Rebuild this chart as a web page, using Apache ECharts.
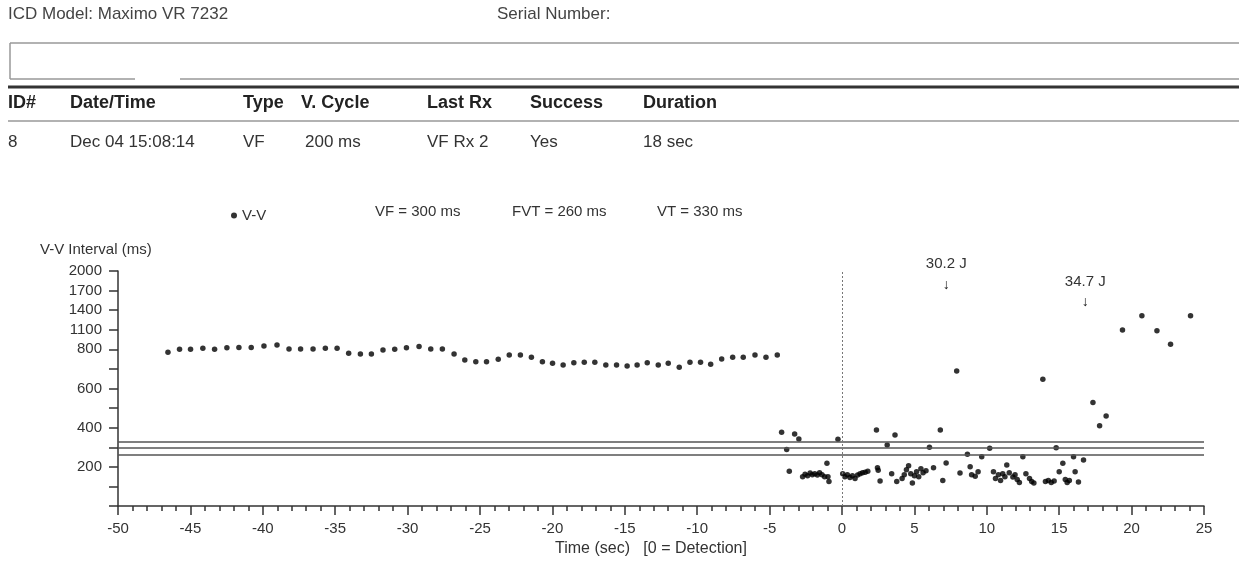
<!DOCTYPE html>
<html>
<head>
<meta charset="utf-8">
<title>ICD Episode - V-V Interval</title>
<script src="https://cdn.jsdelivr.net/npm/echarts@6/dist/echarts.min.js"></script>
<style>
    html, body { margin: 0; padding: 0; background: #fff; }
    #main { width: 1239px; height: 570px; }
</style>
</head>
<body>
<div id="main"></div>
<script>
    // episode table
    var headerCols = ['ID#', 'Date/Time', 'Type', 'V. Cycle', 'Last Rx', 'Success', 'Duration'];
    var headerVals = ['8', 'Dec 04 15:08:14', 'VF', '200 ms', 'VF Rx 2', 'Yes', '18 sec'];

    // detection zones (ms)
    var zoneNames = ['VF', 'FVT', 'VT'];
    var zoneValues = [300, 260, 330];

    // y tick labels (ms), scale is compressed above 800
    var yTickLabels = [200, 400, 600, 800, 1100, 1400, 1700, 2000];

    // V-V intervals: [time (sec), interval (ms)]
    var sinusPoints = [
        [-46.55, 785], [-45.75, 802], [-44.99, 802], [-44.14, 815], [-43.33, 802], [-42.48, 825],
        [-41.65, 830], [-40.80, 830], [-39.92, 851], [-39.02, 866], [-38.19, 806], [-37.39, 806],
        [-36.53, 806], [-35.68, 815], [-34.87, 815], [-34.07, 780], [-33.26, 776], [-32.50, 776],
        [-31.70, 797], [-30.89, 800], [-30.08, 825], [-29.21, 845], [-28.40, 806], [-27.60, 806],
        [-26.79, 776], [-26.05, 746], [-25.29, 737], [-24.55, 737], [-23.74, 749], [-22.98, 771],
        [-22.21, 771], [-21.45, 759], [-20.69, 737], [-19.99, 729], [-19.26, 720], [-18.52, 732],
        [-17.80, 734], [-17.07, 734], [-16.31, 720], [-15.57, 720], [-14.84, 715], [-14.15, 720],
        [-13.45, 732], [-12.69, 720], [-12.00, 729], [-11.24, 708], [-10.50, 734], [-9.77, 734],
        [-9.07, 724], [-8.31, 751], [-7.55, 759], [-6.82, 759], [-6.01, 771], [-5.25, 759], [-4.47, 771]
    ];
    var tachyPoints = [
        [-4.17, 376], [-3.82, 288], [-3.64, 178], [-3.27, 368], [-2.98, 342],
        [-2.72, 150], [-2.55, 162], [-2.38, 155], [-2.20, 168], [-2.05, 160], [-1.88, 165],
        [-1.70, 158], [-1.55, 170], [-1.38, 160], [-1.20, 150],
        [-1.04, 218], [-0.97, 150], [-0.90, 125], [-0.28, 341],
        [0.05, 165], [0.20, 150], [0.37, 160], [0.55, 145], [0.72, 155], [0.90, 140],
        [1.08, 158], [1.25, 165], [1.42, 170], [1.60, 172], [1.78, 178],
        [2.38, 388], [2.45, 195], [2.50, 182], [2.63, 128], [3.12, 312], [3.43, 165], [3.66, 362], [3.78, 125],
        [4.15, 140], [4.30, 160], [4.45, 185], [4.60, 205], [4.75, 165], [4.86, 118], [5.00, 155],
        [5.15, 175], [5.30, 150], [5.45, 190], [5.60, 170], [5.80, 180],
        [6.04, 300], [6.32, 195], [6.79, 388], [6.96, 130], [7.19, 220], [7.92, 690],
        [8.15, 168], [8.66, 264], [8.85, 200], [8.95, 160], [9.20, 152], [9.40, 175], [9.65, 252],
        [10.20, 295], [10.46, 175], [10.60, 140], [10.80, 160], [10.95, 130], [11.10, 165], [11.25, 150],
        [11.38, 209], [11.55, 170], [11.80, 148], [11.95, 160], [12.10, 135], [12.25, 120], [12.49, 252],
        [12.70, 165], [12.95, 140], [13.10, 125], [13.25, 118], [13.87, 647],
        [14.05, 125], [14.25, 130], [14.45, 120], [14.65, 128], [14.79, 298], [15.00, 175], [15.25, 218],
        [15.42, 135], [15.55, 120], [15.70, 130], [15.99, 252], [16.10, 175], [16.33, 122], [16.68, 235]
    ];
    var postShockPoints = [
        [17.33, 528], [17.79, 410], [18.24, 460], [19.37, 1097], [20.71, 1316],
        [21.75, 1086], [22.69, 878], [24.07, 1316]
    ];

    // delivered shocks
    var shockTimes = [7.2, 16.8];
    var shockEnergies = ['30.2 J', '34.7 J'];

    // axis scale: linear to 800 ms, then 300 ms per step
    function toAxis(v) {
        return v <= 800 ? v : 800 + (v - 800) / 3;
    }
    function fromAxis(t) {
        return t <= 800 ? t : 800 + (t - 800) * 3;
    }

    var FONT = '"Liberation Sans", Arial, sans-serif';
    var TXT = '#333';

    var allPoints = sinusPoints.concat(tachyPoints, postShockPoints).map(function(p) {
        return [p[0], toAxis(p[1])];
    });

    // header / table drawing
    var colX = [8, 70, 243, 301, 427, 530, 643];
    var graphics = [];
    graphics.push({type: 'text', left: 8, top: 6, style: {text: 'ICD Model: Maximo VR 7232', font: '17px ' + FONT, fill: '#444'}});
    graphics.push({type: 'text', left: 497, top: 6, style: {text: 'Serial Number:', font: '17px ' + FONT, fill: '#444'}});
    var lines = [
        [10, 43, 1239, 43, 1.5, '#999'],
        [10, 43, 10, 79, 1.5, '#999'],
        [10, 79, 135, 79, 1.5, '#999'],
        [180, 79, 1239, 79, 1.5, '#999'],
        [8, 87, 1239, 87, 3, '#333'],
        [8, 121, 1239, 121, 1.5, '#999']
    ];
    lines.forEach(function(l) {
        graphics.push({type: 'line', shape: {x1: l[0], y1: l[1], x2: l[2], y2: l[3]}, style: {stroke: l[5], lineWidth: l[4]}});
    });
    for (var i = 0; i < headerCols.length; i++) {
        graphics.push({type: 'text', left: colX[i], top: 94, style: {text: headerCols[i], font: 'bold 18px ' + FONT, fill: '#222'}});
        graphics.push({type: 'text', left: colX[i] + (i == 3 ? 4 : 0), top: 134, style: {text: headerVals[i], font: '17px ' + FONT, fill: TXT}});
    }
    // zone captions
    var zoneX = [375, 512, 657];
    for (var j = 0; j < zoneNames.length; j++) {
        graphics.push({type: 'text', left: zoneX[j], top: 204, style: {text: zoneNames[j] + ' = ' + zoneValues[j] + ' ms', font: '15px ' + FONT, fill: TXT}});
    }
    graphics.push({type: 'text', left: 40, top: 242, style: {text: 'V-V Interval (ms)', font: '15px ' + FONT, fill: TXT}});

    // arrow tips above the shocks (ms)
    var arrowAt = [1625, 1355];

    var myChart = echarts.init(document.getElementById('main'));
    var option = {
        animation: false,
        textStyle: {fontFamily: FONT},
        grid: {left: 118, right: 35, top: 271, bottom: 64},
        legend: {
            data: ['V-V'],
            left: 226, top: 203,
            icon: 'circle', itemWidth: 6, itemHeight: 6, itemGap: 4,
            textStyle: {fontSize: 15, color: TXT}
        },
        graphic: graphics,
        xAxis: {
            type: 'value',
            min: -50, max: 25, interval: 5,
            name: 'Time (sec)   [0 = Detection]',
            nameLocation: 'middle', nameGap: 35,
            nameTextStyle: {fontSize: 16, color: TXT, padding: [0, 20, 0, 0]},
            axisLine: {show: true, lineStyle: {color: '#333', width: 1.5}},
            axisTick: {show: true, length: 9, lineStyle: {color: '#333', width: 1.5}},
            minorTick: {show: true, splitNumber: 5, length: 5, lineStyle: {color: '#333', width: 1.5}},
            axisLabel: {fontSize: 15, color: TXT, margin: 15},
            splitLine: {show: false}
        },
        yAxis: {
            type: 'value',
            min: 0, max: 1200, interval: 100,
            axisLine: {show: true, onZero: false, lineStyle: {color: '#333', width: 1.5}},
            axisTick: {show: true, length: 9, lineStyle: {color: '#333', width: 1.5}},
            axisLabel: {
                fontSize: 15, color: TXT, margin: 16,
                formatter: function(t) {
                    var v = Math.round(fromAxis(t));
                    return yTickLabels.indexOf(v) >= 0 ? String(v) : '';
                }
            },
            splitLine: {show: false}
        },
        series: [{
            name: 'V-V',
            type: 'scatter',
            symbol: 'circle',
            symbolSize: 5.5,
            itemStyle: {color: '#000'},
            data: allPoints,
            markLine: {
                silent: true,
                symbol: 'none',
                label: {show: false},
                lineStyle: {color: '#555', width: 1.5, type: 'solid'},
                data: zoneValues.map(function(v) {
                    return {yAxis: toAxis(v)};
                }).concat([{xAxis: 0, lineStyle: {color: '#777', width: 1, type: [2, 2]}}])
            },
            markPoint: {
                silent: true,
                symbol: 'circle',
                symbolSize: 1,
                itemStyle: {color: 'rgba(0,0,0,0)'},
                label: {
                    show: true,
                    position: 'top',
                    distance: 0,
                    formatter: function(p) {
                        return '{e|' + p.name + '}\n{a|↓}';
                    },
                    rich: {
                        e: {fontSize: 15, color: TXT, lineHeight: 22},
                        a: {fontSize: 14, color: '#111', fontWeight: 'bold', lineHeight: 20}
                    }
                },
                data: shockTimes.map(function(t, k) {
                    return {name: shockEnergies[k], coord: [t, toAxis(arrowAt[k])]};
                })
            }
        }]
    };
    myChart.setOption(option);
</script>
</body>
</html>
